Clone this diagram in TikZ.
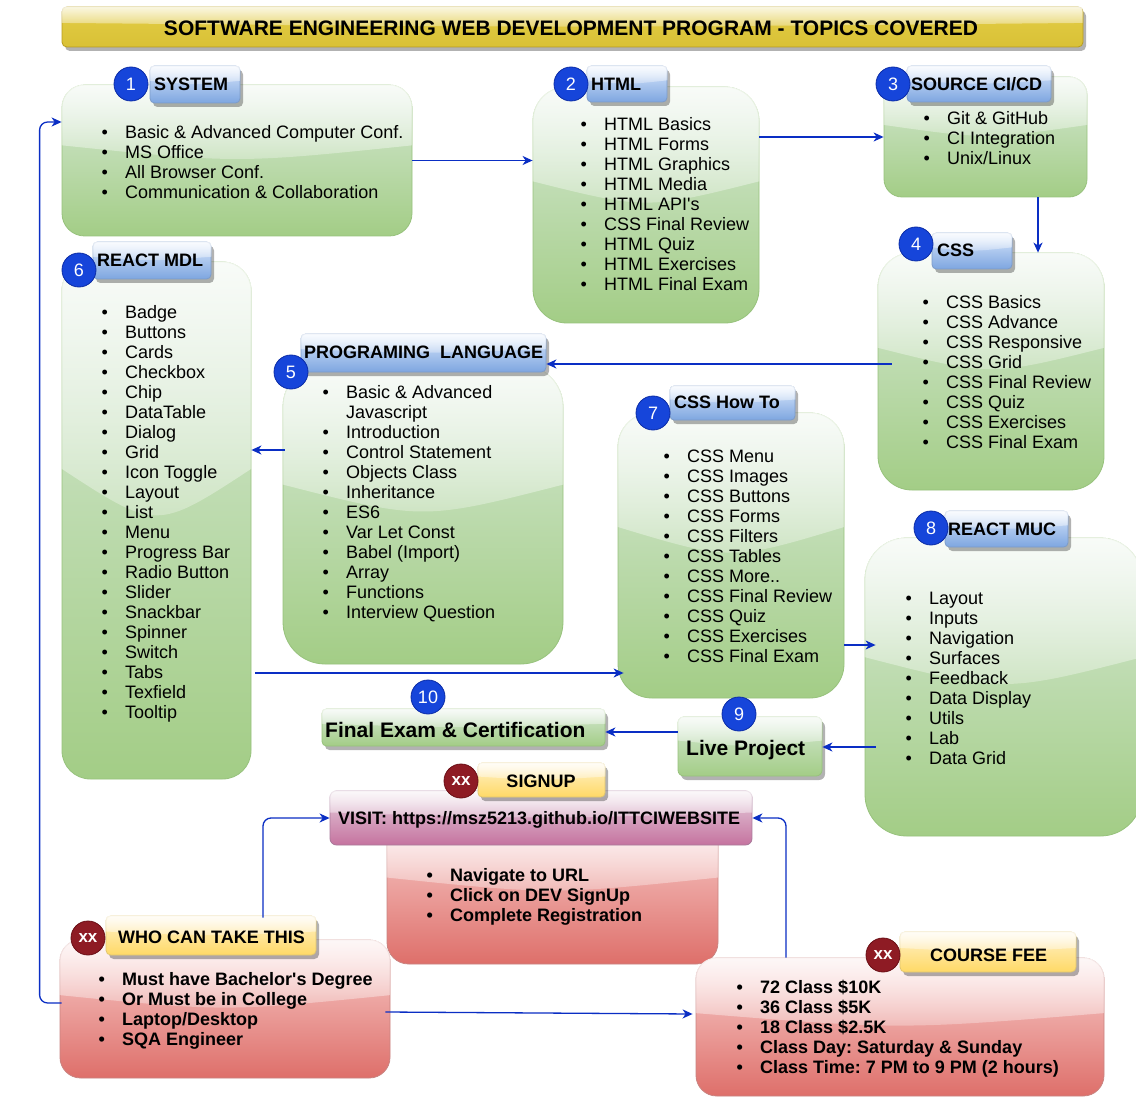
\documentclass[tikz,border=0pt]{standalone}
\usepackage{fontspec}
\setmainfont{Liberation Sans}
\usetikzlibrary{calc,shadows,fadings,arrows.meta}
\definecolor{gtop}{HTML}{D5E8D4}\definecolor{gbot}{HTML}{A3CD86}\definecolor{gbord}{HTML}{97C27C}
\definecolor{btop}{HTML}{DAE8FC}\definecolor{bbot}{HTML}{7EA6E0}\definecolor{bbord}{HTML}{7D9CC9}
\definecolor{ytop}{HTML}{FFF2CC}\definecolor{ybot}{HTML}{FFD966}\definecolor{ybord}{HTML}{E0C670}
\definecolor{rtop}{HTML}{F8CECC}\definecolor{rbot}{HTML}{DE6F6A}\definecolor{rbord}{HTML}{C98380}
\definecolor{ptop}{HTML}{E6D0DE}\definecolor{pbot}{HTML}{C5739F}\definecolor{pbord}{HTML}{A9799A}
\definecolor{ttop}{HTML}{E3CD45}\definecolor{tbot}{HTML}{D9C136}\definecolor{tbord}{HTML}{B89C20}
\definecolor{ncol}{HTML}{1645DA}\definecolor{nbord}{HTML}{0B2CA6}
\definecolor{xcol}{HTML}{8E1B24}\definecolor{xbord}{HTML}{6A0E15}
\definecolor{acol}{HTML}{0A2EC4}
\tikzfading[name=glassfade, top color=transparent!15, bottom color=transparent!75]
\newcommand\glass[2]{%
  \begin{scope}
    \clip[rounded corners=#2 pt] (#1.south west) rectangle (#1.north east);
    \fill[white, path fading=glassfade] (#1.north west) -- (#1.north east) -- ($(#1.north east)!0.4!(#1.south east)$) .. controls ($(#1.north)!0.52!(#1.south)$) .. ($(#1.north west)!0.4!(#1.south west)$) -- cycle;
  \end{scope}}
\newcommand\gbox[7]{%
  \pgfmathsetmacro\bw{#5-#3}\pgfmathsetmacro\bh{#6-#4}%
  \pgfmathsetmacro\br{#7*min(\bw,\bh)}%
  \node[#1, rounded corners=\br pt, minimum width=\bw pt, minimum height=\bh pt, inner sep=0pt] (#2) at ({(#3+#5)/2},{-(#4+#6)/2}) {};
  \glass{#2}{\br}}
\newcommand\itm[1]{\makebox[23.5pt][l]{\textbullet}#1}
\frenchspacing
\tikzset{
  tabshadow/.style={drop shadow={shadow xshift=3pt, shadow yshift=-4pt, opacity=0.3, fill=black}},
  gshade/.style={draw=gbord, line width=0.8pt, top color=gtop, bottom color=gbot},
  gtab/.style={gshade, tabshadow},
  bshade/.style={draw=bbord, line width=0.8pt, top color=btop, bottom color=bbot, tabshadow},
  yshade/.style={draw=ybord, line width=0.8pt, top color=ytop, bottom color=ybot, tabshadow},
  rshade/.style={draw=rbord, line width=0.8pt, top color=rtop, bottom color=rbot},
  pshade/.style={draw=pbord, line width=0.8pt, top color=ptop, bottom color=pbot},
  tshade/.style={draw=tbord, line width=0.8pt, top color=ttop, bottom color=tbot, tabshadow},
  num/.style={circle, fill=ncol, draw=nbord, line width=0.8pt, minimum size=34pt, inner sep=0pt, text=white, font=\fontsize{18}{20}\selectfont},
  xnum/.style={num, fill=xcol, draw=xbord, font=\bfseries\fontsize{17}{20}\selectfont},
  lst/.style={anchor=north west, align=left, inner sep=0pt, font=\fontsize{18}{20}\selectfont},
  blst/.style={anchor=north west, align=left, inner sep=0pt, font=\bfseries\fontsize{18}{20}\selectfont},
  lab/.style={anchor=base west, inner sep=0pt, font=\bfseries\fontsize{18}{20}\selectfont},
  biglab/.style={anchor=base west, inner sep=0pt, font=\bfseries\fontsize{21}{24}\selectfont},
  arr/.style={draw=acol, line width=1.3pt, -{Stealth[length=10pt,width=9pt,inset=3pt]}},
}
\begin{document}
\begin{tikzpicture}[x=1pt,y=1pt]
\useasboundingbox (0,0) rectangle (1136,-1110);
\fill[white] (0,0) rectangle (1136,-1110);
% title
\gbox{tshade}{title}{62}{7}{1083}{47}{0.12}
\node[anchor=base, inner sep=0pt, font=\bfseries\fontsize{21}{24}\selectfont] (ttl) at (571,-35.5) {SOFTWARE ENGINEERING WEB DEVELOPMENT PROGRAM - TOPICS COVERED};
% green boxes
\gbox{gshade}{sys}{62}{85}{412}{236}{0.15}
\gbox{gshade}{html}{533}{87}{759}{323}{0.15}
\gbox{gshade}{src}{884}{77}{1087}{197}{0.15}
\gbox{gshade}{css}{878}{253}{1104}{490}{0.15}
\gbox{gshade}{mdl}{62}{262}{251}{779}{0.15}
\gbox{gshade}{prog}{283}{365}{563}{664}{0.15}
\gbox{gshade}{howto}{618}{413}{844}{698}{0.15}
\gbox{gshade}{muc}{865}{538}{1142}{836}{0.15}
\gbox{gtab}{fin}{322}{709}{605}{746}{0.12}
\gbox{gtab}{live}{678}{717}{822}{776}{0.1}
% blue tabs
\gbox{bshade}{t1}{150}{66}{240}{103}{0.12}
\gbox{bshade}{t2}{587}{66}{667}{102}{0.12}
\gbox{bshade}{t3}{907}{66}{1051}{102}{0.12}
\gbox{bshade}{t4}{932}{233}{1012}{269}{0.12}
\gbox{bshade}{t6}{93}{242}{211}{279}{0.12}
\gbox{bshade}{t5}{301}{334}{546}{372}{0.12}
\gbox{bshade}{t7}{670}{386}{795}{420}{0.12}
\gbox{bshade}{t8}{945}{511}{1068}{547}{0.12}
% red / purple boxes and yellow tabs
\gbox{rshade}{sign}{387}{820}{718}{964}{0.15}
\gbox{pshade}{visit}{330}{791}{752}{845}{0.12}
\gbox{yshade}{tsign}{478}{763}{605}{797}{0.12}
\gbox{rshade}{who}{60}{940}{390}{1078}{0.15}
\gbox{yshade}{twho}{106}{916}{316}{955}{0.12}
\gbox{rshade}{fee}{696}{958}{1104}{1096}{0.15}
\gbox{yshade}{tfee}{900}{932}{1076}{972}{0.12}
% labels
\node[lab] (l1) at (154,-90.4) {SYSTEM};
\node[lab] (l2) at (591,-90.4) {HTML};
\node[lab] (l3) at (911,-90.4) {SOURCE CI/CD};
\node[lab] (l4) at (937,-256.4) {CSS};
\node[lab] (l6) at (97,-266.4) {REACT MDL};
\node[lab] (l5) at (304,-358.4) {PROGRAMING\ \ LANGUAGE};
\node[lab] (l7) at (674,-408.4) {CSS How To};
\node[lab] (l8) at (948,-535.4) {REACT MUC};
\node[biglab] (l10) at (325,-737.5) {Final Exam \& Certification};
\node[biglab] (l9) at (686,-755.5) {Live Project};
\node[lab, anchor=base] (lsign) at (541,-787.4) {SIGNUP};
\node[lab] (lvisit) at (338,-824.4) {VISIT: https://msz5213.github.io/ITTCIWEBSITE};
\node[lab] (lwho) at (118,-943.4) {WHO CAN TAKE THIS};
\node[lab] (lfee) at (930,-961.4) {COURSE FEE};
% lists
\node[lst] (s1) at (101.5,-125) {\itm{Basic \& Advanced Computer Conf.}\\\itm{MS Office}\\\itm{All Browser Conf.}\\\itm{Communication \& Collaboration}};
\node[lst] (s2) at (580.5,-117) {\itm{HTML Basics}\\\itm{HTML Forms}\\\itm{HTML Graphics}\\\itm{HTML Media}\\\itm{HTML API\textquotesingle s}\\\itm{CSS Final Review}\\\itm{HTML Quiz}\\\itm{HTML Exercises}\\\itm{HTML Final Exam}};
\node[lst] (s3) at (923.5,-111) {\itm{Git \& GitHub}\\\itm{CI Integration}\\\itm{Unix/Linux}};
\node[lst] (s4) at (922.5,-295) {\itm{CSS Basics}\\\itm{CSS Advance}\\\itm{CSS Responsive}\\\itm{CSS Grid}\\\itm{CSS Final Review}\\\itm{CSS Quiz}\\\itm{CSS Exercises}\\\itm{CSS Final Exam}};
\node[lst] (s6) at (101.5,-305) {\itm{Badge}\\\itm{Buttons}\\\itm{Cards}\\\itm{Checkbox}\\\itm{Chip}\\\itm{DataTable}\\\itm{Dialog}\\\itm{Grid}\\\itm{Icon Toggle}\\\itm{Layout}\\\itm{List}\\\itm{Menu}\\\itm{Progress Bar}\\\itm{Radio Button}\\\itm{Slider}\\\itm{Snackbar}\\\itm{Spinner}\\\itm{Switch}\\\itm{Tabs}\\\itm{Texfield}\\\itm{Tooltip}};
\node[lst] (s5) at (322.5,-385) {\itm{Basic \& Advanced}\\\hspace*{23.5pt}Javascript\\\itm{Introduction}\\\itm{Control Statement}\\\itm{Objects Class}\\\itm{Inheritance}\\\itm{ES6}\\\itm{Var Let Const}\\\itm{Babel (Import)}\\\itm{Array}\\\itm{Functions}\\\itm{Interview Question}};
\node[lst] (s7) at (663.5,-450) {\itm{CSS Menu}\\\itm{CSS Images}\\\itm{CSS Buttons}\\\itm{CSS Forms}\\\itm{CSS Filters}\\\itm{CSS Tables}\\\itm{CSS More..}\\\itm{CSS Final Review}\\\itm{CSS Quiz}\\\itm{CSS Exercises}\\\itm{CSS Final Exam}};
\node[lst] (s8) at (905.5,-592) {\itm{Layout}\\\itm{Inputs}\\\itm{Navigation}\\\itm{Surfaces}\\\itm{Feedback}\\\itm{Data Display}\\\itm{Utils}\\\itm{Lab}\\\itm{Data Grid}};
\node[blst] (ssign) at (426.5,-868) {\itm{Navigate to URL}\\\itm{Click on DEV SignUp}\\\itm{Complete Registration}};
\node[blst] (swho) at (98.5,-972) {\itm{Must have Bachelor\textquotesingle s Degree}\\\itm{Or Must be in College}\\\itm{Laptop/Desktop}\\\itm{SQA Engineer}};
\node[blst] (sfee) at (736.5,-980) {\itm{72 Class \$10K}\\\itm{36 Class \$5K}\\\itm{18 Class \$2.5K}\\\itm{Class Day: Saturday \& Sunday}\\\itm{Class Time: 7 PM to 9 PM (2 hours)}};
% number circles
\node[num] (n1) at (131,-84) {1};
\node[num] (n2) at (571,-84) {2};
\node[num] (n3) at (893,-84) {3};
\node[num] (n4) at (916,-244) {4};
\node[num] (n6) at (79,-270) {6};
\node[num] (n5) at (291,-372) {5};
\node[num] (n7) at (653,-413) {7};
\node[num] (n8) at (931,-528) {8};
\node[num] (n9) at (739,-714) {9};
\node[num] (n10) at (428,-697) {10};
\node[xnum] (x1) at (461,-781) {xx};
\node[xnum] (x2) at (88,-938) {xx};
\node[xnum] (x3) at (883,-955) {xx};
% connectors
\draw[arr] (sys.east) -- (html.west |- sys.east);
\draw[arr] (html.east |- src.west) -- (src.west);
\draw[arr] ($(src.south)+(52.5,0)$) -- ($(css.north)+(47,0)$);
\path ($(css.west)+(14,7.5)$) coordinate (a1);
\draw[arr] (a1) -- (t5.east |- a1);
\path ($(prog.west)+(2,64.5)$) coordinate (a2);
\draw[arr] (a2) -- (mdl.east |- a2);
\path ($(mdl.east)+(4,-152.5)$) coordinate (a3);
\draw[arr] (a3) -- ($(howto.west |- a3)+(6,0)$);
\path ($(howto.east)+(0,-89.5)$) coordinate (a4);
\draw[arr] (a4) -- ($(muc.west |- a4)+(11,0)$);
\path ($(muc.west)+(11,-60)$) coordinate (a5);
\draw[arr] (a5) -- (live.east |- a5);
\path ($(live.west)+(0,14.5)$) coordinate (a6);
\draw[arr] (a6) -- (fin.east |- a6);
\draw[arr, rounded corners=8pt] ($(twho.north)+(52,-2)$) |- (visit.west);
\draw[arr, rounded corners=8pt] ($(fee.north)+(-114,0)$) |- (visit.east);
\draw[arr, rounded corners=8pt] ($(who.west)+(2,6)$) -- ++(-22,0) |- ($(sys.west)+(0,38.5)$);
\draw[arr] ($(who.east)+(-5,-3)$) -- ($(fee.west)+(-3,13)$);
\end{tikzpicture}
\end{document}
